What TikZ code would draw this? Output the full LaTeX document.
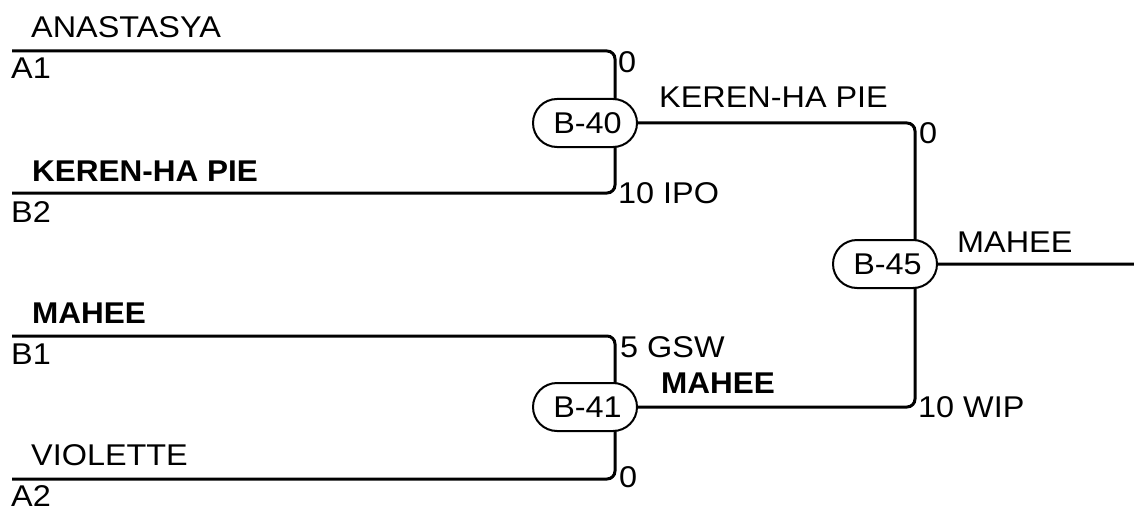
\documentclass[tikz,border=0pt]{standalone}
\usepackage{fontspec}
\setmainfont{Liberation Sans}
\usetikzlibrary{shapes.misc,backgrounds}
\newcommand{\wtxt}[1]{\scalebox{1.08}[1]{#1}}
\newcommand{\wbtxt}[1]{\scalebox{1.05}[1]{#1}}
\begin{document}
\begin{tikzpicture}[x=1pt,y=-1pt,
  lbl/.style={anchor=base west,inner sep=0pt,font=\fontsize{30}{30}\selectfont},
  blbl/.style={anchor=base west,inner sep=0pt,font=\fontsize{30}{30}\selectfont\bfseries},
  game/.style={rounded rectangle,draw,line width=2pt,fill=white,minimum width=104pt,minimum height=48pt,inner sep=0pt,font=\fontsize{30}{30}\selectfont},
  wire/.style={line width=3pt,rounded corners=8pt}]
\useasboundingbox (0,0) rectangle (1134,508);
% games
\node[game] (b40) at (585,123) {\hspace{5pt}\wtxt{B-40}};
\node[game] (b41) at (585,407) {\hspace{5pt}\wtxt{B-41}};
\node[game] (b45) at (885,264) {\hspace{5pt}\wtxt{B-45}};
% free ends
\coordinate (a1s) at (12,51);
\coordinate (b2s) at (12,193);
\coordinate (b1s) at (12,336);
\coordinate (a2s) at (12,479);
\coordinate (out) at (1134,264);
\begin{scope}[on background layer]
\draw[wire] (a1s) -| ([xshift=30pt]b40.center);
\draw[wire] (b2s) -| ([xshift=30pt]b40.center);
\draw[wire] (b1s) -| ([xshift=30pt]b41.center);
\draw[wire] (a2s) -| ([xshift=30pt]b41.center);
\draw[wire] (b40) -| ([xshift=30pt]b45.center);
\draw[wire] (b41) -| ([xshift=30pt]b45.center);
\draw[wire] (b45) -- (out);
\end{scope}
% labels
\node[lbl] (tA1) at (31,38) {\wtxt{ANASTASYA}};
\node[lbl] (sA1) at (11,79) {\wtxt{A1}};
\node[lbl] (scA1) at (618,73) {\wtxt{0}};
\node[blbl] (tB2) at (32,181) {\wbtxt{KEREN-HA PIE}};
\node[lbl] (sB2) at (11,222) {\wtxt{B2}};
\node[lbl] (scB2) at (618,203) {\wtxt{10 IPO}};
\node[blbl] (tB1) at (32,323) {\wbtxt{MAHEE}};
\node[lbl] (sB1) at (11,364) {\wtxt{B1}};
\node[lbl] (scB1) at (620,357) {\wtxt{5 GSW}};
\node[lbl] (tA2) at (31,465) {\wtxt{VIOLETTE}};
\node[lbl] (sA2) at (11,506) {\wtxt{A2}};
\node[lbl] (scA2) at (619,487) {\wtxt{0}};
\node[lbl] (w40) at (659,108) {\wtxt{KEREN-HA PIE}};
\node[lbl] (sc40) at (919,143) {\wtxt{0}};
\node[blbl] (w41) at (661,393) {\wbtxt{MAHEE}};
\node[lbl] (sc41) at (918,417) {\wtxt{10 WIP}};
\node[lbl] (w45) at (957,252) {\wtxt{MAHEE}};
\end{tikzpicture}
\end{document}
